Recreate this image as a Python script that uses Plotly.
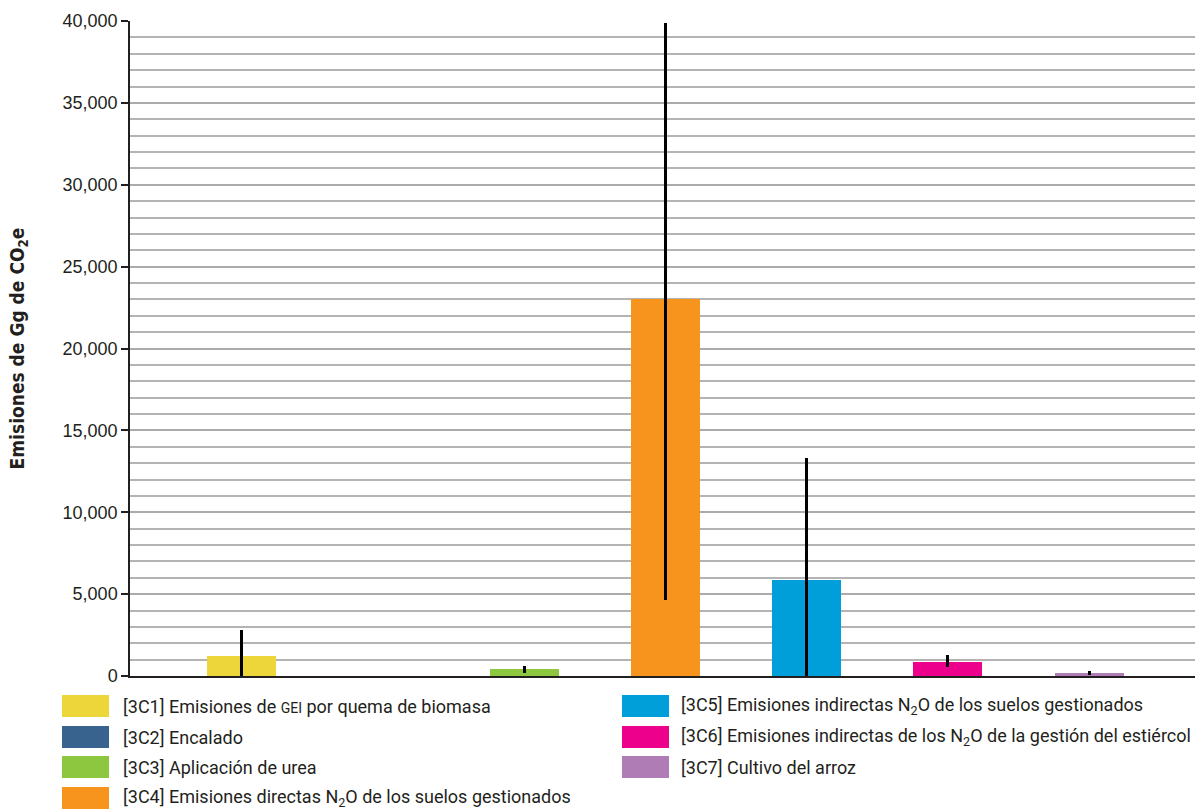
import plotly.graph_objects as go

# ---- data ----
codes = ["3C1", "3C2", "3C3", "3C4", "3C5", "3C6", "3C7"]
legend_labels = [
    "[3C1] Emisiones de <span style=\"font-size:14px\">GEI</span> por quema de biomasa",
    "[3C2] Encalado",
    "[3C3] Aplicación de urea",
    "[3C4] Emisiones directas N<sub>2</sub>O de los suelos gestionados",
    "[3C5] Emisiones indirectas N<sub>2</sub>O de los suelos gestionados",
    "[3C6] Emisiones indirectas de los N<sub>2</sub>O de la gestión del estiércol",
    "[3C7] Cultivo del arroz",
]
values = [1240, 0, 450, 23050, 5890, 885, 210]
upper = [2840, 0, 615, 39900, 13340, 1310, 280]
lower = [0, 0, 185, 4650, 0, 540, 60]
colors = ["#EDD63A", "#37638E", "#8DC63F", "#F7941D", "#009FDA", "#EC008C", "#B07CB6"]
y_ticks = [0, 5000, 10000, 15000, 20000, 25000, 30000, 35000, 40000]

err_plus = [u - v for u, v in zip(upper, values)]
err_minus = [v - l for v, l in zip(values, lower)]

W, H = 1195, 809
L, R, T, B = 130, 0, 21, 133
pw, ph = W - L - R, H - T - B

fig = go.Figure()
fig.add_trace(go.Bar(
    x=list(range(len(codes))), y=values,
    marker=dict(color=colors, line=dict(width=0)),
    width=0.488,
    error_y=dict(type="data", symmetric=False, array=err_plus, arrayminus=err_minus,
                 color="black", thickness=3, width=0),
    showlegend=False, hoverinfo="skip",
))

tick_font = dict(family="Liberation Sans, Arial, sans-serif", size=18, color="#231f20")
leg_font = dict(family="Roboto, DejaVu Sans Condensed, sans-serif",
                size=18, color="#231f20")

fig.update_layout(
    width=W, height=H,
    margin=dict(l=L, r=R, t=T, b=B, pad=0),
    paper_bgcolor="white", plot_bgcolor="white",
    xaxis=dict(range=[-0.79, 6.75], showticklabels=False, ticks="", showgrid=False,
               zeroline=False, showline=True, linecolor="#231f20", linewidth=2),
    yaxis=dict(range=[0, 40000], tickvals=y_ticks, tickformat=",", ticks="outside",
               ticklen=7, tickwidth=1.5, tickcolor="#231f20", tickfont=tick_font,
               showline=True, linecolor="#231f20", linewidth=1.5,
               showgrid=True, gridcolor="#ababab", gridwidth=1.5, zeroline=False,
               minor=dict(dtick=1000, showgrid=True, gridcolor="#b4b4b4", gridwidth=1.5,
                          ticks=""),
               title=dict(text="Emisiones de Gg de CO<sub>2</sub>e", standoff=33,
                          font=dict(family="DejaVu Sans Condensed, Arial, sans-serif",
                                    size=19, color="#231f20", weight="bold"))),
    bargap=0,
)

# ---- custom legend ----
row_y = [706, 737, 767, 798]
col_sw_x = [62, 622]
col_tx_x = [121, 679]
shapes, annots = [], []
for i, (lab, col) in enumerate(zip(legend_labels, colors)):
    c = 0 if i < 4 else 1
    r = i if i < 4 else i - 4
    yc = row_y[r]
    x0, x1 = col_sw_x[c], col_sw_x[c] + 47
    shapes.append(dict(type="rect", xref="paper", yref="paper",
                       x0=(x0 - L) / pw, x1=(x1 - L) / pw,
                       y0=(H - B - (yc + 11)) / ph, y1=(H - B - (yc - 11)) / ph,
                       fillcolor=col, line=dict(width=0), layer="above"))
    annots.append(dict(xref="paper", yref="paper", x=(col_tx_x[c] - L) / pw,
                       y=(H - B - yc) / ph, text=lab, showarrow=False,
                       xanchor="left", yanchor="middle", font=leg_font))
fig.update_layout(shapes=shapes, annotations=annots)

fig.write_html("out.html", config={"displayModeBar": False},
               post_script="document.body.style.margin='0';document.body.style.overflow='hidden';")
